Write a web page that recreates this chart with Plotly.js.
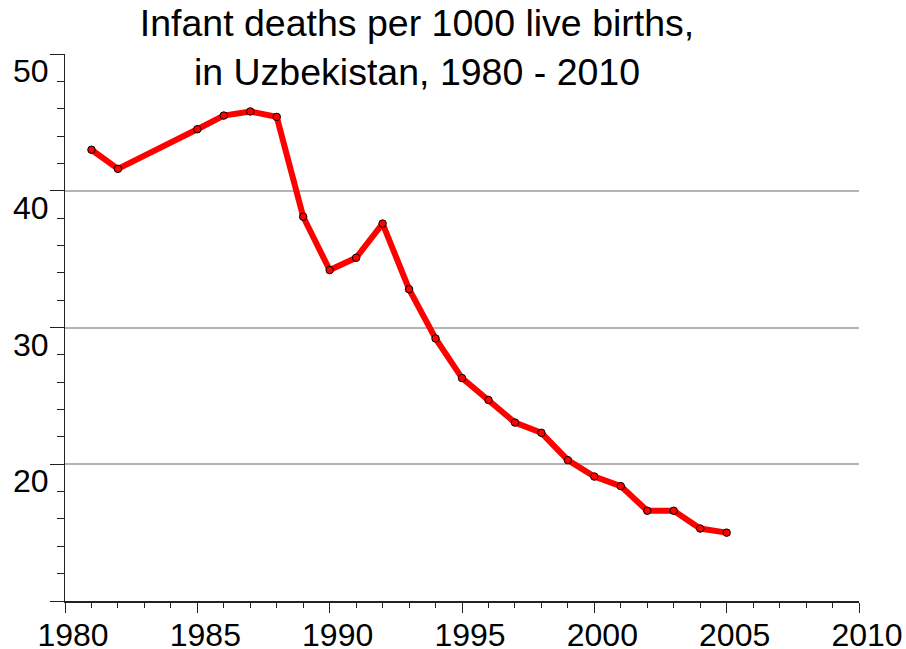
<!DOCTYPE html>
<html>
<head>
<meta charset="utf-8">
<script src="https://cdn.plot.ly/plotly-3.0.1.min.js"></script>
<style>html,body{margin:0;padding:0;background:#fff;}#chart{width:906px;height:649px;}</style>
</head>
<body>
<div id="chart"></div>
<script>
const years = [1981, 1982, 1985, 1986, 1987, 1988, 1989, 1990, 1991, 1992, 1993, 1994, 1995, 1996, 1997, 1998, 1999, 2000, 2001, 2002, 2003, 2004, 2005];
const infantDeaths = [43.0, 41.6, 44.5, 45.5, 45.8, 45.4, 38.1, 34.2, 35.1, 37.6, 32.8, 29.2, 26.3, 24.7, 23.05, 22.3, 20.3, 19.1, 18.4, 16.6, 16.6, 15.3, 15.0];
const xTickVals = [1980, 1985, 1990, 1995, 2000, 2005, 2010];
const yTickVals = [10, 20, 30, 40, 50];
const yTickText = ['', '20', '30', '40', '50'];
const titleText = 'Infant deaths per 1000 live births,<br>in Uzbekistan, 1980 - 2010';

const FONT = 'Liberation Sans, Arial, sans-serif';

Plotly.newPlot('chart', [{
  x: years,
  y: infantDeaths,
  type: 'scatter',
  mode: 'lines+markers',
  line: {color: '#ff0000', width: 6},
  marker: {symbol: 'circle', size: 7.5, color: '#ff0000', line: {color: '#000', width: 1}},
  hoverinfo: 'x+y'
}], {
  width: 906, height: 649,
  paper_bgcolor: '#fff', plot_bgcolor: '#fff',
  margin: {l: 64.5, r: 46.5, t: 54, b: 47.5},
  showlegend: false,
  font: {family: FONT, color: '#000'},
  title: {
    text: titleText,
    font: {family: FONT, size: 37.5, color: '#000'},
    xref: 'container', x: 417/906, xanchor: 'center',
    yref: 'container', y: 1 - 36/649, yanchor: 'top'
  },
  xaxis: {
    range: [1980, 2010],
    tickvals: xTickVals,
    ticks: 'outside', ticklen: 10, tickwidth: 1.2, tickcolor: '#222',
    minor: {dtick: 1, ticks: 'outside', ticklen: 5, tickwidth: 1, tickcolor: '#222', showgrid: false},
    showgrid: false, zeroline: false,
    showline: true, linecolor: '#222', linewidth: 1.5,
    ticklabelstandoff: -5,
    ticklabelshift: 8,
    tickfont: {family: FONT, size: 32, color: '#000'}
  },
  yaxis: {
    range: [10, 50],
    tickvals: yTickVals, ticktext: yTickText,
    ticks: 'outside', ticklen: 14, tickwidth: 1.2, tickcolor: '#222',
    minor: {dtick: 2, ticks: 'outside', ticklen: 7, tickwidth: 1, tickcolor: '#222', showgrid: false},
    showgrid: true, gridcolor: '#b4b4b4', gridwidth: 1.5,
    zeroline: false,
    showline: true, linecolor: '#222', linewidth: 1.2,
    ticklabelshift: 17,
    ticklabelstandoff: -5,
    tickfont: {family: FONT, size: 32, color: '#000'}
  }
}, {displayModeBar: false});
</script>
</body>
</html>
